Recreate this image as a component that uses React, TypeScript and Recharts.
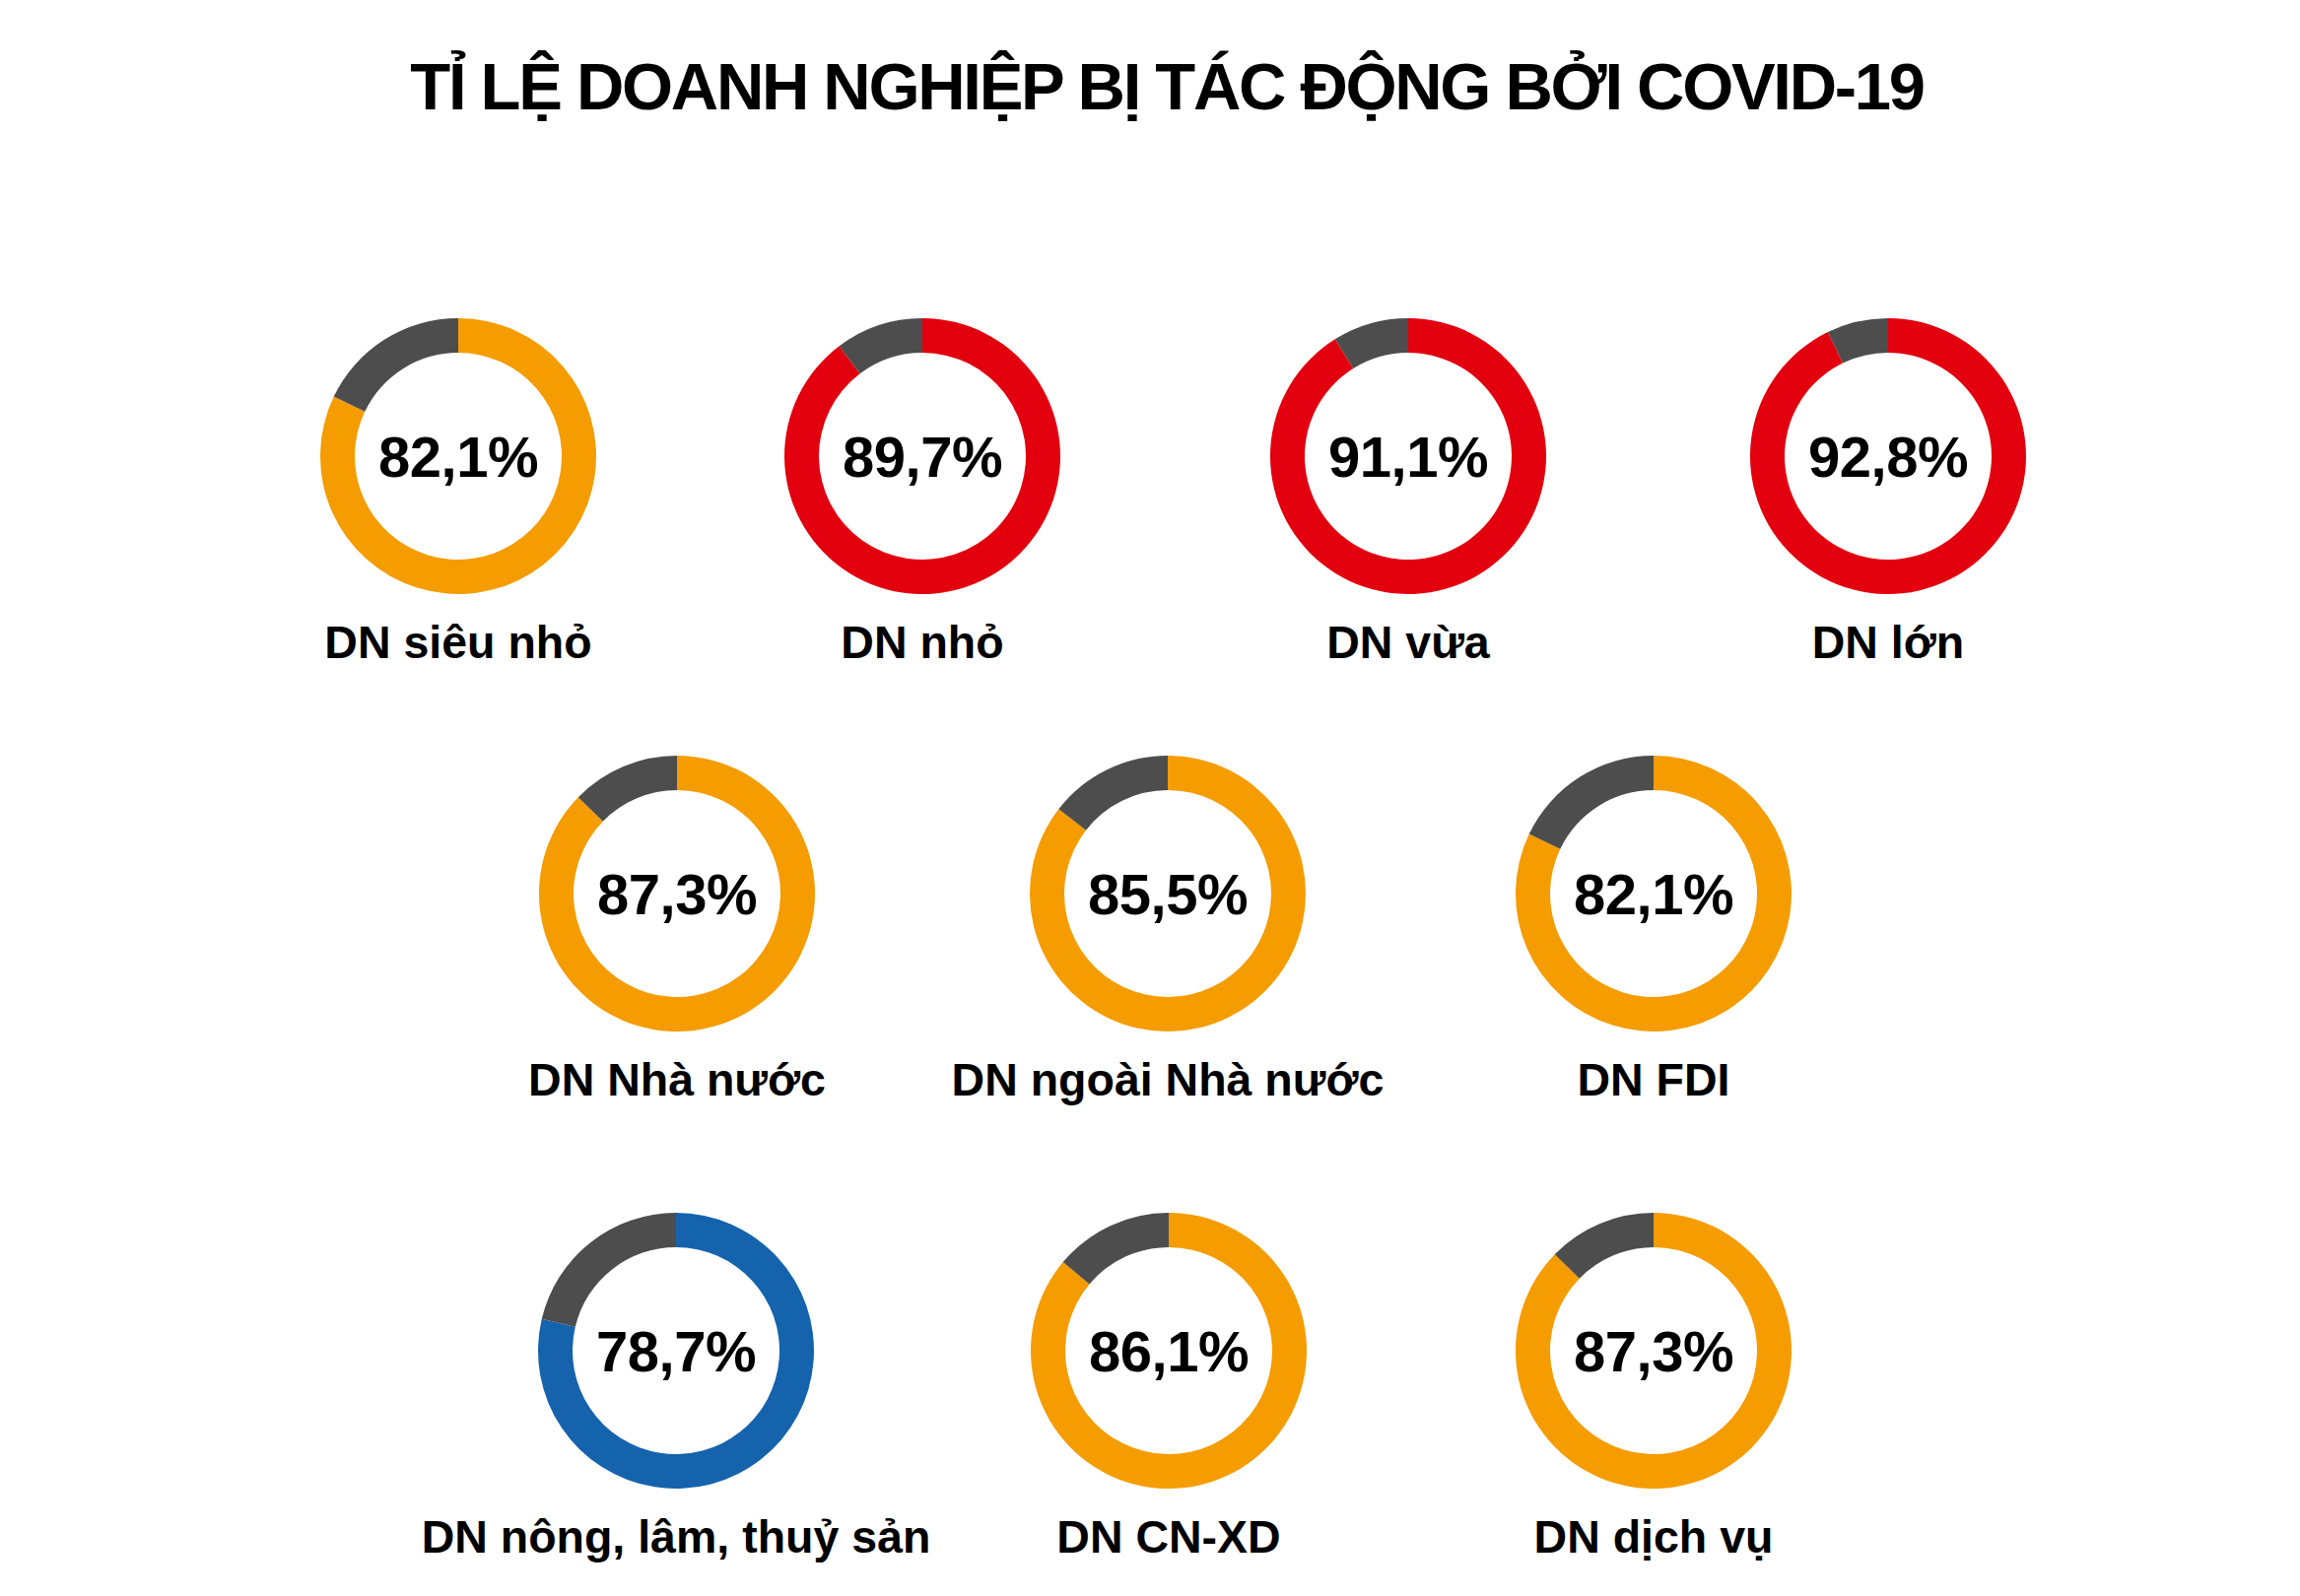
import { PieChart, Pie, Cell } from "recharts";

const title = "TỈ LỆ DOANH NGHIỆP BỊ TÁC ĐỘNG BỞI COVID-19";

const categories = [
  "DN siêu nhỏ",
  "DN nhỏ",
  "DN vừa",
  "DN lớn",
  "DN Nhà nước",
  "DN ngoài Nhà nước",
  "DN FDI",
  "DN nông, lâm, thuỷ sản",
  "DN CN-XD",
  "DN dịch vụ",
];

// share of firms affected, in %
const affected = [82.1, 89.7, 91.1, 92.8, 87.3, 85.5, 82.1, 78.7, 86.1, 87.3];

const ringColors = [
  "#F59C00",
  "#E2000F",
  "#E2000F",
  "#E2000F",
  "#F59C00",
  "#F59C00",
  "#F59C00",
  "#1563AD",
  "#F59C00",
  "#F59C00",
];

const REST_COLOR = "#4D4D4D";
const FONT = '"Liberation Sans", Arial, Helvetica, sans-serif';

// donut centres on the page
const layout = [
  { cx: 465, cy: 463 },
  { cx: 936, cy: 463 },
  { cx: 1429, cy: 463 },
  { cx: 1916, cy: 463 },
  { cx: 687, cy: 907 },
  { cx: 1185, cy: 907 },
  { cx: 1678, cy: 907 },
  { cx: 686, cy: 1371 },
  { cx: 1186, cy: 1371 },
  { cx: 1678, cy: 1371 },
];

const fmt = (v: number) => v.toFixed(1).replace(".", ",") + "%";

export default function App() {
  return (
    <div
      style={{
        position: "absolute",
        left: 0,
        top: 0,
        width: 2334,
        height: 1620,
        background: "#fff",
      }}
    >
      <PieChart width={2334} height={1620} margin={{ top: 0, right: 0, bottom: 0, left: 0 }}>
        {categories.map((name, i) => {
          const data = [
            { name, value: affected[i] },
            { name: "khác", value: +(100 - affected[i]).toFixed(1) },
          ];
          return (
            <Pie
              key={name + i}
              data={data}
              dataKey="value"
              cx={layout[i].cx}
              cy={layout[i].cy}
              innerRadius={105}
              outerRadius={140}
              startAngle={90}
              endAngle={-270}
              stroke="none"
              isAnimationActive={false}
            >
              <Cell fill={ringColors[i]} />
              <Cell fill={REST_COLOR} />
            </Pie>
          );
        })}
      </PieChart>
      <svg
        width={2334}
        height={1620}
        style={{ position: "absolute", left: 0, top: 0, pointerEvents: "none" }}
      >
        <text
          x={1184}
          y={111}
          textAnchor="middle"
          fontFamily={FONT}
          fontWeight="bold"
          fontSize={67}
          letterSpacing={-2.3}
          fill="#000"
        >
          {title}
        </text>
        {categories.map((name, i) => (
          <g key={"t" + i} fontFamily={FONT} fontWeight="bold" fill="#000" textAnchor="middle">
            <text x={layout[i].cx} y={layout[i].cy + 21} fontSize={58} letterSpacing={-0.5}>
              {fmt(affected[i])}
            </text>
            <text x={layout[i].cx} y={layout[i].cy + 205} fontSize={46.5}>
              {name}
            </text>
          </g>
        ))}
      </svg>
    </div>
  );
}
